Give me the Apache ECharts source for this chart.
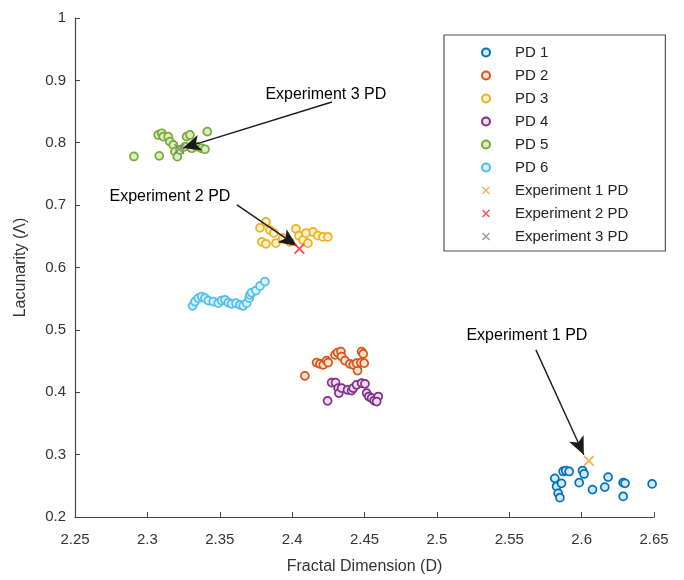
<!DOCTYPE html>
<html><head><meta charset="utf-8">
<script src="https://cdn.jsdelivr.net/npm/echarts@6/dist/echarts.min.js"></script>
<style>html,body{margin:0;padding:0;background:#fff}#c{width:684px;height:580px}</style>
</head><body><div id="c"></div>
<script>
const seriesNames = ['PD 1','PD 2','PD 3','PD 4','PD 5','PD 6','Experiment 1 PD','Experiment 2 PD','Experiment 3 PD'];
const pd1 = [[2.5815,0.262],[2.5827,0.249],[2.5838,0.238],[2.585,0.231],[2.5861,0.254],[2.5872,0.273],[2.589,0.2745],[2.5914,0.273],[2.5983,0.255],[2.6006,0.2745],[2.6017,0.269],[2.6075,0.244],[2.616,0.248],[2.6183,0.264],[2.6287,0.255],[2.63,0.254],[2.6287,0.233],[2.6487,0.253]];
const pd2 = [[2.4088,0.4263],[2.4169,0.4476],[2.4192,0.4455],[2.4215,0.4439],[2.4238,0.4508],[2.4249,0.4476],[2.4296,0.4599],[2.4314,0.4636],[2.4337,0.4652],[2.4342,0.4572],[2.4365,0.4508],[2.4399,0.4455],[2.4422,0.4439],[2.4452,0.4348],[2.4445,0.4466],[2.4475,0.4476],[2.448,0.4652],[2.4491,0.4615],[2.4498,0.4466]];
const pd3 = [[2.3778,0.6635],[2.3819,0.673],[2.3847,0.660],[2.3874,0.6554],[2.3791,0.641],[2.3819,0.638],[2.3888,0.639],[2.3936,0.647],[2.3985,0.641],[2.4026,0.662],[2.4047,0.651],[2.4075,0.644],[2.4109,0.639],[2.4144,0.657],[2.4178,0.651],[2.4213,0.649],[2.4247,0.649],[2.4095,0.655]];
const pd4 = [[2.4245,0.3862],[2.4273,0.4155],[2.43,0.4155],[2.4318,0.4066],[2.4323,0.3986],[2.4342,0.4066],[2.4383,0.4038],[2.4411,0.4027],[2.4422,0.4066],[2.4445,0.4119],[2.448,0.4146],[2.4503,0.4135],[2.4515,0.3986],[2.453,0.3931],[2.4549,0.3905],[2.4567,0.3867],[2.4595,0.3931],[2.4584,0.3851]];
const pd5 = [[2.2907,0.778],[2.3082,0.779],[2.3075,0.8125],[2.3099,0.8152],[2.311,0.8098],[2.3144,0.8098],[2.3156,0.8018],[2.3179,0.7965],[2.3191,0.7857],[2.3207,0.7777],[2.3225,0.7885],[2.326,0.7938],[2.3271,0.8098],[2.3294,0.8125],[2.3306,0.7912],[2.334,0.7938],[2.3375,0.7912],[2.3398,0.7896],[2.3414,0.8178]];
const pd6 = [[2.3313,0.5385],[2.3329,0.5454],[2.3352,0.5508],[2.3375,0.5534],[2.3398,0.5508],[2.3421,0.547],[2.3455,0.5454],[2.349,0.5428],[2.3513,0.547],[2.3536,0.5481],[2.3559,0.5438],[2.3582,0.5417],[2.3612,0.5428],[2.364,0.5401],[2.3662,0.5385],[2.3686,0.5428],[2.3704,0.5508],[2.3709,0.5561],[2.372,0.5598],[2.375,0.563],[2.3778,0.5705],[2.3812,0.5774]];
const exp1 = [[2.605,0.29]];
const exp2 = [[2.405,0.630]];
const exp3 = [[2.322,0.790]];
const annotTexts = ['Experiment 1 PD','Experiment 2 PD','Experiment 3 PD'];
const annotTextPos = [[2.5622,0.4904],[2.3156,0.7131],[2.4233,0.8766]];
const arrowStart = [[2.5684,0.468],[2.3619,0.7003],[2.4275,0.8654]];
const arrowEnd = [[2.6015,0.2997],[2.4033,0.6346],[2.3245,0.7915]];
const xTicks = {min:2.25, max:2.65, interval:0.05};
const yTicks = {min:0.2, max:1, interval:0.1};

const edgeColors = ['#0072BD','#D95319','#EDB120','#7E2F8E','#77AC30','#4DBEEE'];
const fillColors = ['#d6e8f6','#fbe3cf','#fcf0cf','#f0dcea','#dcedc8','#d8f1fb'];
const xColors = ['#F0A030','#FF2020','#808080'];
const crossPath = 'path://M0,1.2L1.2,0L5,3.8L8.8,0L10,1.2L6.2,5L10,8.8L8.8,10L5,6.2L1.2,10L0,8.8L3.8,5Z';
const font = 'Liberation Sans, Arial, sans-serif';

const pdData = [pd1,pd2,pd3,pd4,pd5,pd6];
const expData = [exp1,exp2,exp3];
const series = [];
pdData.forEach((d,i)=>{
  series.push({name:seriesNames[i], type:'scatter', data:d, symbol:'circle', symbolSize:8,
    itemStyle:{color:fillColors[i], borderColor:edgeColors[i], borderWidth:1.7, opacity:1},
    emphasis:{disabled:true}, z:3});
});
expData.forEach((d,i)=>{
  series.push({name:seriesNames[6+i], type:'scatter', data:d, symbol:crossPath, symbolSize:11,
    itemStyle:{color:xColors[i]}, emphasis:{disabled:true}, z:5});
});
series.push({name:'annot', type:'scatter', data:[], silent:true,
  markLine:{silent:true, symbol:['none','arrow'], symbolSize:[12,18], animation:false,
    lineStyle:{color:'#1a1a1a', width:1.4, type:'solid'}, label:{show:false},
    data: arrowStart.map((s,i)=>[{coord:s},{coord:arrowEnd[i]}])},
  markPoint:{silent:true, symbol:'circle', symbolSize:0, animation:false,
    label:{show:true, position:'inside', color:'#000', fontSize:16, fontFamily:font},
    data: annotTextPos.map((p,i)=>({coord:p, value:annotTexts[i], label:{formatter:annotTexts[i]}}))}
});

const fmt = v => String(parseFloat(v.toFixed(2)));
const chart = echarts.init(document.getElementById('c'), null, {renderer:'canvas'});
chart.setOption({
  animation:false,
  backgroundColor:'#fff',
  grid:{left:75, right:30, top:18, bottom:63},
  xAxis:{type:'value', min:xTicks.min, max:xTicks.max, interval:xTicks.interval,
    name:'Fractal Dimension (D)', nameLocation:'middle', nameGap:42,
    nameTextStyle:{fontSize:16, color:'#333', fontFamily:font},
    axisLine:{show:true, lineStyle:{color:'#444', width:1.2}},
    axisTick:{show:true, inside:true, length:5, lineStyle:{color:'#444'}},
    axisLabel:{formatter:fmt, fontSize:15, color:'#333', margin:15, fontFamily:font},
    splitLine:{show:false}},
  yAxis:{type:'value', min:yTicks.min, max:yTicks.max, interval:yTicks.interval,
    name:'Lacunarity (Λ)', nameLocation:'middle', nameGap:46,
    nameTextStyle:{fontSize:16, color:'#333', fontFamily:font},
    axisLine:{show:true, lineStyle:{color:'#444', width:1.2}},
    axisTick:{show:true, inside:true, length:5, lineStyle:{color:'#444'}},
    axisLabel:{formatter:fmt, fontSize:15, color:'#333', margin:9, fontFamily:font},
    splitLine:{show:false}},
  legend:{orient:'vertical', left:444, top:35, data:seriesNames,
    itemWidth:8, itemHeight:8, itemGap:8,
    padding:[10,37,7,37],
    borderColor:'#555', borderWidth:1.2, backgroundColor:'#fff',
    textStyle:{fontSize:15, color:'#222', fontFamily:font, padding:[0,0,0,20]},
    selectedMode:false},
  series:series
});
</script></body></html>
